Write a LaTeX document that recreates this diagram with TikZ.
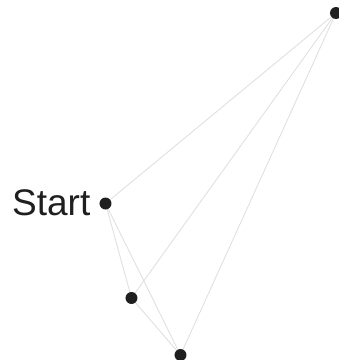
\documentclass[tikz,border=0pt]{standalone}
\usepackage{fontspec}
\setmainfont{Liberation Sans}
\usetikzlibrary{backgrounds}
\begin{document}
\begin{tikzpicture}[x=1pt,y=1pt,
  dot/.style={circle,fill=black!88,inner sep=0pt,minimum size=12pt},
  edge/.style={draw=black!12,line width=0.9pt},
  lbl/.style={inner sep=0pt,font=\fontsize{37}{40}\selectfont,text=black!88}]
\useasboundingbox (0,0) rectangle (339,360);
\node[dot] (tr) at (336,347) {};
\node[dot] (s) at (105.5,156.5) {};
\node[dot] (b) at (131.5,62) {};
\node[dot] (c) at (180.5,5) {};
\node[lbl,anchor=base east] (t) at (90.5,144.5) {Start};
\begin{scope}[on background layer]
\draw[edge] (s.center) -- (tr.center);
\draw[edge] (s.center) -- (b.center);
\draw[edge] (s.center) -- (c.center);
\draw[edge] (b.center) -- (c.center);
\draw[edge] (b.center) -- (tr.center);
\draw[edge] (c.center) -- (tr.center);
\end{scope}
\end{tikzpicture}
\end{document}
